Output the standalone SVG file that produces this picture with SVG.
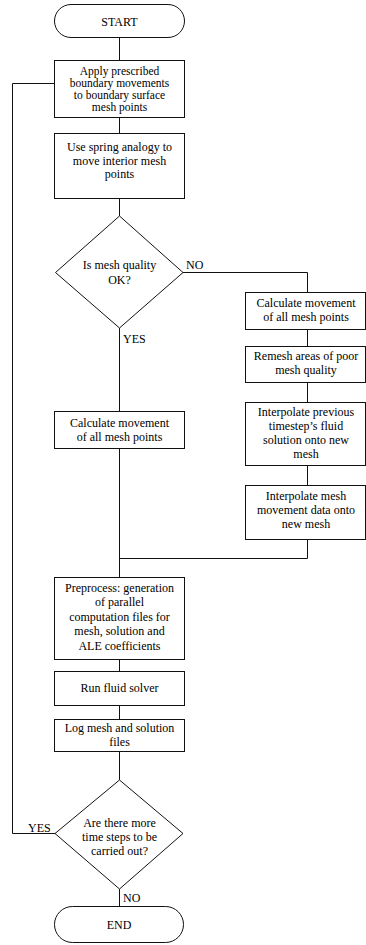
<svg xmlns="http://www.w3.org/2000/svg" width="366" height="945" viewBox="0 0 366 945" font-family="Liberation Serif, Times New Roman, serif" font-size="12">
<style>
.s{fill:#fff;stroke:#111;stroke-width:1}
.c{fill:none;stroke:#111;stroke-width:1}
text{fill:#000;text-anchor:middle}
.l{text-anchor:start}
.t{font-size:11.5px}
</style>
<rect width="366" height="945" fill="#fff"/>
<g id="connectors">
<path class="c" d="M119.5 37V60M119.5 117V133M119.5 198V216M119.5 328V411M119.5 448V577M119.5 659V671M119.5 705V719M119.5 751V780M119.5 889V906"/>
<path class="c" d="M183 272.5H307.5V292M307.5 329V346M307.5 382V402M307.5 465V485M307.5 539V558.5H119.5"/>
<path class="c" d="M54 83.5H12.5V833.5H55"/>
<text class="l" x="186" y="269">NO</text>
<text class="l" x="123" y="343">YES</text>
<text class="l" x="28" y="832">YES</text>
<text class="l" x="123" y="902">NO</text>
</g>
<g id="start"><rect class="s" x="54.5" y="4.5" width="130" height="33" rx="16.5"/><text x="119.5" y="26">START</text></g>
<g id="apply" class="t"><rect class="s" x="54.5" y="60.5" width="130" height="57"/>
<text x="119.5" y="75">Apply prescribed</text><text x="119.5" y="87">boundary movements</text><text x="119.5" y="99">to boundary surface</text><text x="119.5" y="111">mesh points</text></g>
<g id="spring"><rect class="s" x="54.5" y="133.5" width="130" height="65"/>
<text x="119.5" y="151">Use spring analogy to</text><text x="119.5" y="164.5">move interior mesh</text><text x="119.5" y="178">points</text></g>
<g id="quality"><path class="s" d="M119.5 216L183 272.5L119.5 328L55.5 272.5Z"/>
<text x="119.5" y="269">Is mesh quality</text><text x="119.5" y="284">OK?</text></g>
<g id="calcL"><rect class="s" x="54.5" y="411.5" width="130" height="37"/>
<text x="119.5" y="427">Calculate movement</text><text x="119.5" y="441">of all mesh points</text></g>
<g id="calcR"><rect class="s" x="245.5" y="292.5" width="120" height="37"/>
<text x="306" y="307">Calculate movement</text><text x="306" y="321">of all mesh points</text></g>
<g id="remesh"><rect class="s" x="245.5" y="346.5" width="120" height="36"/>
<text x="306" y="360">Remesh areas of poor</text><text x="306" y="374">mesh quality</text></g>
<g id="interp1"><rect class="s" x="245.5" y="402.5" width="120" height="63"/>
<text x="306" y="416">Interpolate previous</text><text x="306" y="430">timestep’s fluid</text><text x="306" y="444">solution onto new</text><text x="306" y="458">mesh</text></g>
<g id="interp2"><rect class="s" x="245.5" y="485.5" width="120" height="54"/>
<text x="306" y="500">Interpolate mesh</text><text x="306" y="514">movement data onto</text><text x="306" y="528">new mesh</text></g>
<g id="preprocess"><rect class="s" x="54.5" y="577.5" width="130" height="82"/>
<text x="119.5" y="592">Preprocess: generation</text><text x="119.5" y="606">of parallel</text><text x="119.5" y="620.5">computation files for</text><text x="119.5" y="635">mesh, solution and</text><text x="119.5" y="649.5">ALE coefficients</text></g>
<g id="solver"><rect class="s" x="54.5" y="671.5" width="130" height="34"/>
<text x="119.5" y="692">Run fluid solver</text></g>
<g id="log"><rect class="s" x="54.5" y="719.5" width="130" height="32"/>
<text x="119.5" y="732">Log mesh and solution</text><text x="119.5" y="746">files</text></g>
<g id="more"><path class="s" d="M119.5 780L183 833.5L119.5 889L55 833.5Z"/>
<text x="119.5" y="827">Are there more</text><text x="119.5" y="841">time steps to be</text><text x="119.5" y="855">carried out?</text></g>
<g id="end"><rect class="s" x="54.5" y="906.5" width="129" height="36" rx="18"/><text x="119" y="929">END</text></g>
</svg>
